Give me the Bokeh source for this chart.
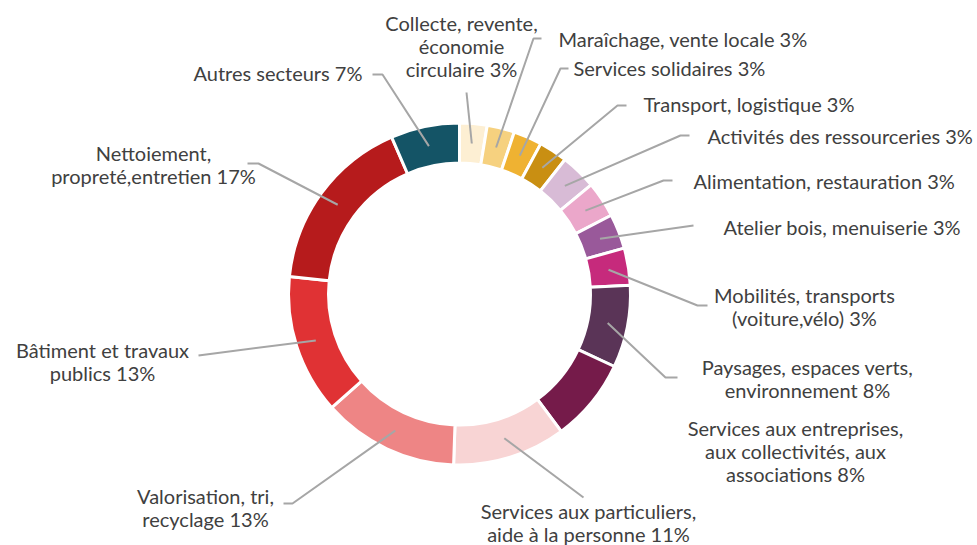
import math
from bokeh.plotting import figure
from bokeh.models import Range1d, ColumnDataSource
from bokeh.core.properties import value
from bokeh.embed import file_html
from bokeh.resources import INLINE

# ---------------- data ----------------
categories = [
    "Collecte, revente,\néconomie\ncirculaire",
    "Maraîchage, vente locale",
    "Services solidaires",
    "Transport, logistique",
    "Activités des ressourceries",
    "Alimentation, restauration",
    "Atelier bois, menuiserie",
    "Mobilités, transports\n(voiture,vélo)",
    "Paysages, espaces verts,\nenvironnement",
    "Services aux entreprises,\naux collectivités, aux\nassociations",
    "Services aux particuliers,\naide à la personne",
    "Valorisation, tri,\nrecyclage",
    "Bâtiment et travaux\npublics",
    "Nettoiement,\npropreté,entretien",
    "Autres secteurs",
]
shares = [2.6, 2.6, 2.7, 2.7, 3.4, 3.4, 3.3, 3.5, 7.8, 7.9, 10.7, 12.9, 13.2, 16.9, 6.5]
pct_labels = ["3%", "3%", "3%", "3%", "3%", "3%", "3%", "3%",
              "8%", "8%", "11%", "13%", "13%", "17%", "7%"]
colors = ["#FDEFD3", "#F6D17F", "#EFB232", "#C98F12", "#D8BBD6", "#EBA7CA",
          "#99599A", "#C62A7C", "#5A3457", "#751B4A", "#F8D4D4", "#EE8585",
          "#E03234", "#B61B1C", "#145466"]

# ---------------- layout (screen px) ----------------
# (align, x, y of first line, leader points after the start on the ring)
label_layout = [
    ("center", 461, 22, [(466, 92)]),
    ("left", 558, 38, [(533, 38), (541, 38)]),
    ("left", 573, 67, [(560, 68), (568, 68)]),
    ("left", 643, 103, [(617, 105), (626, 105)]),
    ("left", 707, 135, [(680, 135), (689, 135)]),
    ("left", 693, 180, [(663, 180), (672, 180)]),
    ("left", 723, 226, [(693, 225)]),
    ("center", 804, 294, [(697, 305), (707, 305)]),
    ("center", 807, 366, [(665, 377), (677, 377)]),
    ("center", 795, 427, None),
    ("center", 588, 510, [(583, 497)]),
    ("center", 205, 495, [(292, 503), (283, 503)]),
    ("center", 102, 349, [(198, 355)]),
    ("center", 153, 152, [(258, 163), (247, 163)]),
    ("right", 362, 72, [(382, 74), (372, 74)]),
]
LINE_H = 23
W, H = 977, 545
CX, CY = 459, 293.5        # screen
R_OUT, R_IN, R_LEAD = 171, 131, 151


def Y(sy):
    return H - sy


p = figure(width=W, height=H, x_range=Range1d(0, W), y_range=Range1d(0, H),
           output_backend="svg", toolbar_location=None,
           x_axis_location=None, y_axis_location=None, min_border=0)
p.grid.visible = False
p.outline_line_color = None
p.background_fill_color = "white"

total = sum(shares)
starts, ends, mids = [], [], []
acc = 0.0
for s in shares:
    a0 = acc / total * 2 * math.pi
    acc += s
    a1 = acc / total * 2 * math.pi
    starts.append(math.pi / 2 - a0)
    ends.append(math.pi / 2 - a1)
    mids.append((a0 + a1) / 2)

src = ColumnDataSource(dict(start=starts, end=ends, color=colors))
p.annular_wedge(x=CX, y=Y(CY), inner_radius=R_IN, outer_radius=R_OUT,
                start_angle="start", end_angle="end", direction="clock",
                fill_color="color", line_color="white", line_width=3, source=src)

# leaders
xs, ys = [], []
for (align, lx, ly, pts), th in zip(label_layout, mids):
    if not pts:
        continue
    sx = CX + R_LEAD * math.sin(th)
    sy = CY - R_LEAD * math.cos(th)
    px = [sx] + [q[0] for q in pts]
    py = [Y(sy)] + [Y(q[1]) for q in pts]
    xs.append(px)
    ys.append(py)
p.multi_line(xs=xs, ys=ys, line_color="#A6A6A6", line_width=2)

# labels
for align in ("left", "center", "right"):
    tx, ty, tt = [], [], []
    for (al, lx, ly, pts), cat, pct in zip(label_layout, categories, pct_labels):
        if al != align:
            continue
        lines = (cat + " " + pct).split("\n")
        for i, ln in enumerate(lines):
            tx.append(lx)
            ty.append(Y(ly + i * LINE_H))
            tt.append(ln)
    if tx:
        p.text(x=tx, y=ty, text=tt, text_align=align, text_baseline="middle",
               text_font=value("Lato"), text_font_size="20px", text_color="#404040")

open("out.html", "w").write(file_html(p, INLINE))
